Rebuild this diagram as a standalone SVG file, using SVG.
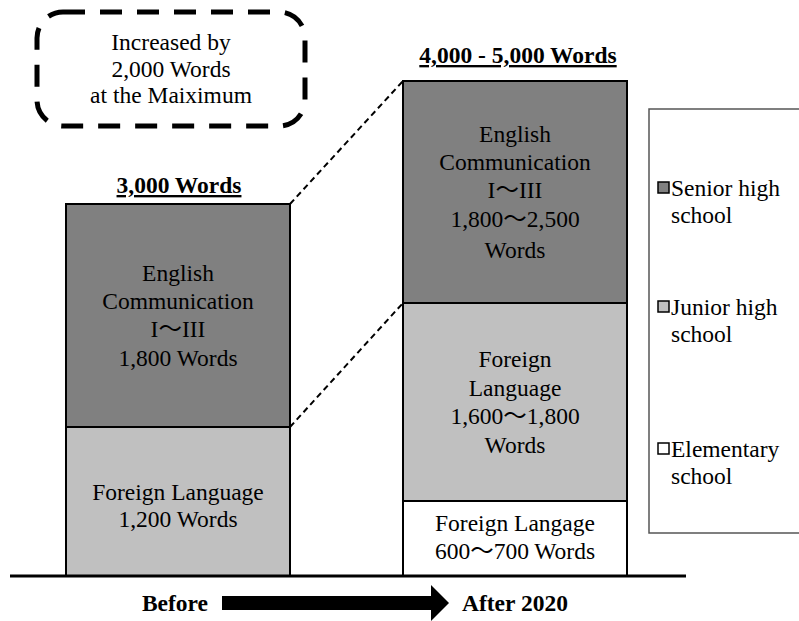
<svg xmlns="http://www.w3.org/2000/svg" width="799" height="621" viewBox="0 0 799 621">
<style>
text{font-size:23.5px;fill:#000;text-anchor:middle}
.b{font-weight:bold}
.u{text-decoration:underline}
.l{text-anchor:start}
.bar{stroke:#000;stroke-width:2}
.dk{fill:#808080}
.lt{fill:#c0c0c0}
.wh{fill:#fff}
.conn{stroke:#000;stroke-width:2;stroke-dasharray:6 4;fill:none}
</style>
<rect width="799" height="621" fill="#fff"/>
<g font-family="Liberation Serif, DejaVu Serif, serif">
<g id="callout">
<rect x="37" y="12" width="268" height="114" rx="26" fill="none" stroke="#000" stroke-width="5" stroke-dasharray="22 15"/>
<text x="171" y="50">Increased by</text>
<text x="171" y="77">2,000 Words</text>
<text x="171" y="103">at the Maiximum</text>
</g>
<g id="before">
<text class="b u" x="179" y="193">3,000 Words</text>
<rect class="bar dk" x="66" y="204" width="224" height="223"/>
<rect class="bar lt" x="66" y="427" width="224" height="149"/>
<text x="178" y="281">English</text>
<text x="178" y="309">Communication</text>
<text x="178" y="337">I<tspan font-family="Noto Sans CJK JP, sans-serif">～</tspan>III</text>
<text x="178" y="366">1,800 Words</text>
<text x="178" y="500">Foreign Language</text>
<text x="178" y="527">1,200 Words</text>
</g>
<g id="after">
<text class="b u" x="518" y="63">4,000 - 5,000 Words</text>
<rect class="bar dk" x="403" y="81" width="224" height="222"/>
<rect class="bar lt" x="403" y="303" width="224" height="198"/>
<rect class="bar wh" x="403" y="501" width="224" height="75"/>
<text x="515" y="142">English</text>
<text x="515" y="170">Communication</text>
<text x="515" y="198">I<tspan font-family="Noto Sans CJK JP, sans-serif">～</tspan>III</text>
<text x="515" y="227">1,800<tspan font-family="Noto Sans CJK JP, sans-serif">～</tspan>2,500</text>
<text x="515" y="258">Words</text>
<text x="515" y="367">Foreign</text>
<text x="515" y="396">Language</text>
<text x="515" y="424">1,600<tspan font-family="Noto Sans CJK JP, sans-serif">～</tspan>1,800</text>
<text x="515" y="453">Words</text>
<text x="515" y="531">Foreign Langage</text>
<text x="515" y="559">600<tspan font-family="Noto Sans CJK JP, sans-serif">～</tspan>700 Words</text>
</g>
<g id="connectors">
<line class="conn" x1="290" y1="204" x2="403" y2="81"/>
<line class="conn" x1="290" y1="427" x2="403" y2="303"/>
</g>
<g id="baseline">
<line x1="10" y1="576" x2="686" y2="576" stroke="#000" stroke-width="3"/>
</g>
<g id="timeline">
<text class="b" x="175" y="611">Before</text>
<rect x="222" y="596" width="210" height="14" fill="#000"/>
<polygon points="431,585 449,603 431,621" fill="#000"/>
<text class="b l" x="462" y="611">After 2020</text>
</g>
<g id="legend">
<rect x="649" y="109" width="160" height="424" fill="#fff" stroke="#555" stroke-width="1.5"/>
<rect x="658" y="182" width="11" height="11" fill="#808080" stroke="#000" stroke-width="1.5"/>
<text class="l" x="671" y="196">Senior high</text>
<text class="l" x="671" y="223">school</text>
<rect x="658" y="301" width="11" height="11" fill="#c0c0c0" stroke="#000" stroke-width="1.5"/>
<text class="l" x="671" y="315">Junior high</text>
<text class="l" x="671" y="342">school</text>
<rect x="658" y="443" width="11" height="11" fill="#fff" stroke="#000" stroke-width="1.5"/>
<text class="l" x="671" y="457">Elementary</text>
<text class="l" x="671" y="484">school</text>
</g>
</g>
</svg>
